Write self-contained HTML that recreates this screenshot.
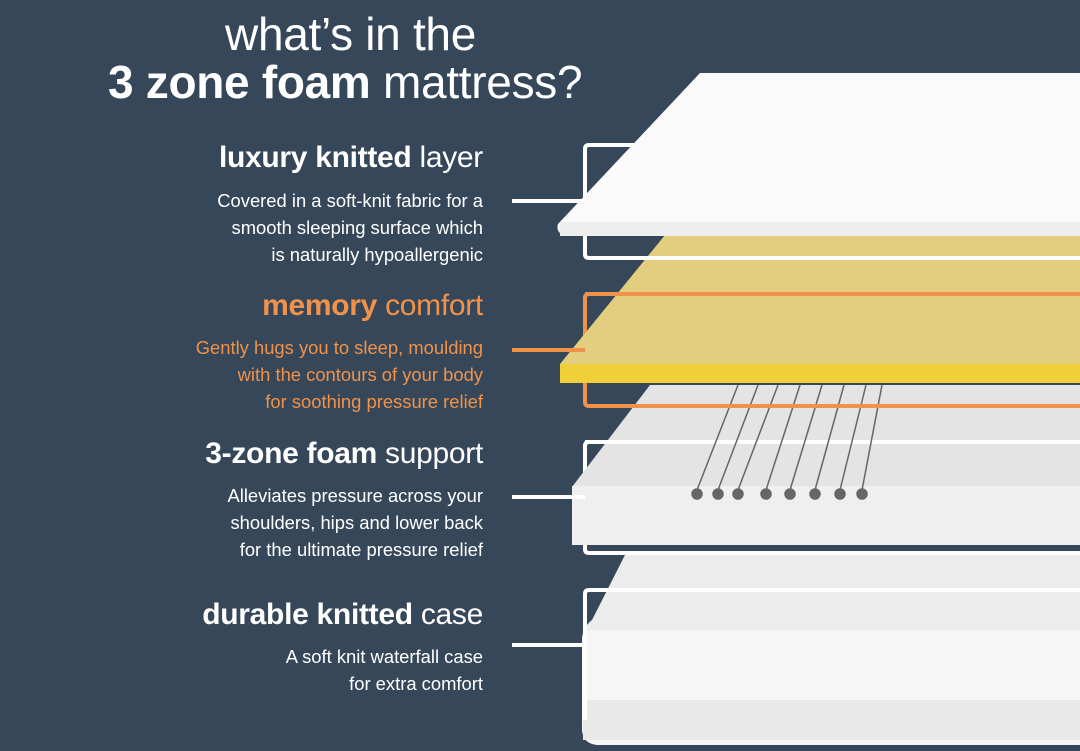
<!DOCTYPE html>
<html><head><meta charset="utf-8"><style>
html,body{margin:0;padding:0}
body{width:1080px;height:751px;background:#364759;position:relative;overflow:hidden;font-family:"Liberation Sans",sans-serif;color:#fff}
.t{position:absolute;white-space:nowrap}
.h{font-size:46px;font-weight:300;letter-spacing:-0.3px}
.hd{position:absolute;right:597px;font-size:30px;white-space:nowrap;letter-spacing:-0.3px}
.hd b{font-weight:900}
.bd{position:absolute;right:597px;text-align:right;font-size:18.4px;line-height:27px;white-space:nowrap}
.or{color:#f0924a}
</style></head><body>
<svg width="1080" height="751" style="position:absolute;left:0;top:0">
<!-- case -->
<path d="M625,555 L1080,555 L1080,745 L600,745 Q582,745 582,728 L582,640 Q582,628 592,620 Z" fill="#ececec"/>
<path d="M582,640 Q582,630 595,630 L1080,630 L1080,745 L600,745 Q582,745 582,728 Z" fill="#f6f6f6"/>
<rect x="583" y="700" width="497" height="40" fill="#e9e9e9"/>
<path d="M1082,590 L589,590 Q585,590 585,594 L585,720" stroke="#fff" stroke-width="4" fill="none"/>
<!-- box3 -->
<path d="M1082,442 L589,442 Q585,442 585,446 L585,549 Q585,553 589,553 L1082,553" stroke="#fff" stroke-width="4" fill="none"/>
<!-- foam -->
<path d="M650,385 L1080,385 L1080,545 L572,545 L572,487 Z" fill="#e4e4e4"/>
<rect x="572" y="486" width="508" height="59" fill="#efefef"/>
<line x1="585" y1="442" x2="1080" y2="442" stroke="#fff" stroke-width="4"/>
<g stroke="#666" stroke-width="1.5" fill="#666">
<line x1="697" y1="490" x2="738" y2="385"/><line x1="718" y1="490" x2="758" y2="385"/>
<line x1="738" y1="490" x2="778" y2="385"/><line x1="766" y1="490" x2="800" y2="385"/>
<line x1="790" y1="490" x2="822" y2="385"/><line x1="815" y1="490" x2="844" y2="385"/>
<line x1="840" y1="490" x2="866" y2="385"/><line x1="862" y1="490" x2="882" y2="385"/>
<circle cx="697" cy="494" r="5"/><circle cx="718" cy="494" r="5"/><circle cx="738" cy="494" r="5"/><circle cx="766" cy="494" r="5"/><circle cx="790" cy="494" r="5"/><circle cx="815" cy="494" r="5"/><circle cx="840" cy="494" r="5"/><circle cx="862" cy="494" r="5"/>
</g>
<!-- box2 -->
<path d="M1082,294 L589,294 Q585,294 585,298 L585,402 Q585,406 589,406 L1082,406" stroke="#f0924a" stroke-width="4" fill="none"/>
<!-- yellow -->
<path d="M665,235 L1080,235 L1080,364 L560,364 Z" fill="#e3cd7e"/>
<rect x="560" y="364" width="520" height="19" fill="#f0cf3a"/>
<line x1="585" y1="294" x2="1080" y2="294" stroke="#f0924a" stroke-width="4"/>
<!-- box1 -->
<path d="M1082,145 L589,145 Q585,145 585,149 L585,254 Q585,258 589,258 L1082,258" stroke="#fff" stroke-width="4" fill="none"/>
<!-- top -->
<path d="M700,73 L1080,73 L1080,236 L568,236 Q555,234 558,224 Z" fill="#fafafa"/>
<rect x="560" y="222" width="520" height="14" fill="#eee"/>
<g stroke-width="4">
<line x1="512" y1="201" x2="585" y2="201" stroke="#fff"/>
<line x1="512" y1="350" x2="585" y2="350" stroke="#f0924a"/>
<line x1="512" y1="497" x2="585" y2="497" stroke="#fff"/>
<line x1="512" y1="645" x2="585" y2="645" stroke="#fff"/>
</g>
</svg>
<div class="t h" style="right:604px;top:7px">what’s in the</div>
<div class="t h" style="left:108px;top:55px"><b style="font-weight:900">3 zone foam</b> mattress?</div>

<div class="hd" style="top:141px"><b>luxury knitted</b> layer</div>
<div class="bd" style="top:187px">Covered in a soft-knit fabric for a<br>smooth sleeping surface which<br>is naturally hypoallergenic</div>

<div class="hd or" style="top:289px"><b>memory</b> comfort</div>
<div class="bd or" style="top:334px">Gently hugs you to sleep, moulding<br>with the contours of your body<br>for soothing pressure relief</div>

<div class="hd" style="top:437px"><b>3-zone foam</b> support</div>
<div class="bd" style="top:482px">Alleviates pressure across your<br>shoulders, hips and lower back<br>for the ultimate pressure relief</div>

<div class="hd" style="top:598px"><b>durable knitted</b> case</div>
<div class="bd" style="top:643px">A soft knit waterfall case<br>for extra comfort</div>
</body></html>
